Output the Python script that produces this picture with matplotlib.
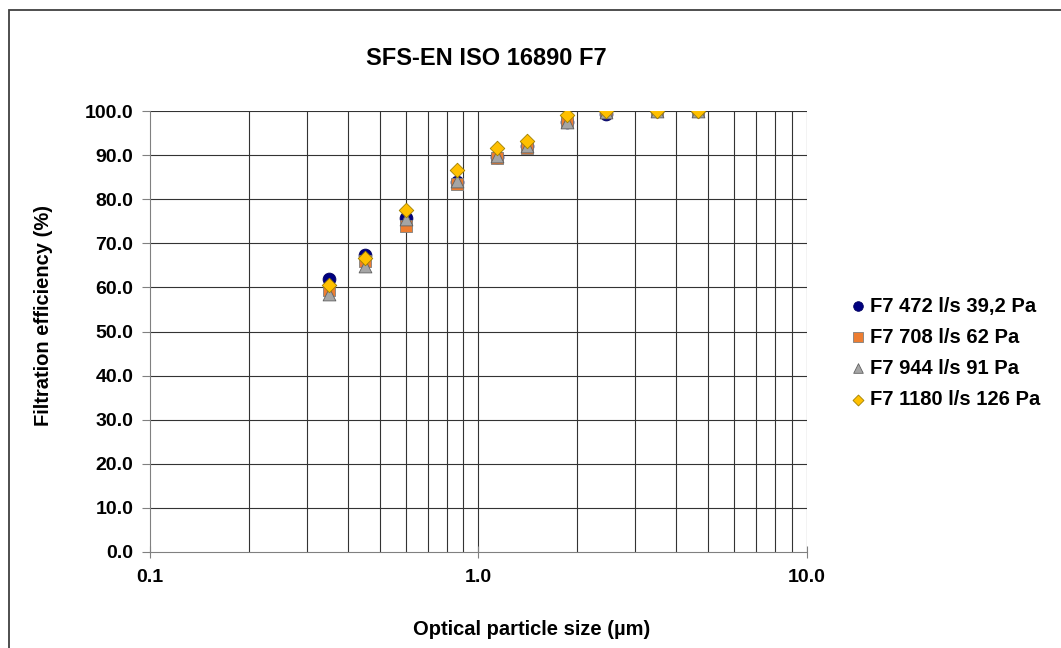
import numpy as np
import matplotlib.pyplot as plt
from matplotlib.patches import Rectangle
from matplotlib.ticker import FixedLocator, FuncFormatter, NullFormatter

plt.rcParams['font.family'] = ['Liberation Sans', 'DejaVu Sans']
plt.rcParams['font.weight'] = 'bold'

# particle size classes (um)
size_um = [0.35, 0.45, 0.60, 0.86, 1.14, 1.40, 1.86, 2.44, 3.49, 4.66]

# filtration efficiency (%) per airflow
eff_472 = [61.8, 67.3, 75.8, 84.0, 89.6, 92.0, 97.4, 99.3, 100.0, 100.0]
eff_708 = [59.5, 66.0, 74.0, 83.5, 89.4, 91.5, 97.5, 99.8, 100.0, 100.0]
eff_944 = [58.6, 64.8, 75.4, 84.1, 89.9, 92.0, 97.6, 99.7, 100.0, 100.0]
eff_1180 = [60.5, 66.6, 77.6, 86.6, 91.6, 93.1, 99.0, 100.0, 100.0, 100.0]

labels = ["F7 472 l/s 39,2 Pa", "F7 708 l/s 62 Pa",
          "F7 944 l/s 91 Pa", "F7 1180 l/s 126 Pa"]

fig = plt.figure(figsize=(10.61, 6.48), dpi=100)
# outer chart frame, open at the right and bottom edge
fig.patches.append(Rectangle((9 / 1061, -0.1), 1.2, (638 / 648) + 0.1,
                             transform=fig.transFigure, fill=False,
                             edgecolor='#404040', linewidth=1.3))

ax = fig.add_axes([150 / 1061, 96 / 648, 657 / 1061, 441 / 648])
ax.set_xscale('log')
ax.set_xlim(0.1, 10)
ax.set_ylim(0, 100)

grid_x = [m * 10.0 ** e for e in (-1, 0) for m in range(2, 10)] + [1.0, 10.0]
for gx in grid_x:
    ax.axvline(gx, color='#333333', linewidth=0.8, zorder=1)
for gy in range(10, 101, 10):
    ax.axhline(gy, color='#333333', linewidth=0.8, zorder=1)

ax.scatter(size_um, eff_472, marker='o', s=85, color='#000080',
           edgecolors='#000060', linewidths=0.6, zorder=3, label=labels[0])
ax.scatter(size_um, eff_708, marker='s', s=75, color='#ED7D31',
           edgecolors='#7F7F7F', linewidths=0.6, zorder=4, label=labels[1])
ax.scatter(size_um, eff_944, marker='^', s=85, color='#A5A5A5',
           edgecolors='#606060', linewidths=0.6, zorder=5, label=labels[2])
ax.scatter(size_um, eff_1180, marker='D', s=55, color='#FFC000',
           edgecolors='#A08000', linewidths=0.6, zorder=6, label=labels[3])

for side in ('top', 'right'):
    ax.spines[side].set_visible(False)
ax.spines['left'].set_color('#808080')
ax.spines['bottom'].set_color('#808080')

ax.yaxis.set_major_locator(FixedLocator(np.arange(0, 101, 10)))
ax.yaxis.set_major_formatter(FuncFormatter(lambda v, p: f"{v:.1f}"))
ax.xaxis.set_major_locator(FixedLocator([0.1, 1.0, 10.0]))
ax.xaxis.set_major_formatter(FuncFormatter(lambda v, p: f"{v:.1f}"))
ax.xaxis.set_minor_formatter(NullFormatter())
ax.tick_params(axis='y', direction='out', length=6, color='#808080',
               labelsize=14, pad=6)
ax.tick_params(axis='x', which='major', direction='inout', length=8,
               color='#808080', labelsize=14, pad=8)
ax.tick_params(axis='x', which='minor', length=0)

ax.set_title("SFS-EN ISO 16890 F7", fontsize=17, fontweight='bold',
             pad=33, x=0.512)
ax.set_xlabel("Optical particle size (µm)", fontsize=14.5, fontweight='bold',
              labelpad=20)
ax.xaxis.set_label_coords(0.581, -0.155)
ax.set_ylabel("Filtration efficiency (%)", fontsize=14.5, fontweight='bold')
ax.yaxis.set_label_coords(-0.148, 0.536)

leg = ax.legend(loc='center left', bbox_to_anchor=(1.032, 0.452), frameon=False,
                fontsize=14.5, handletextpad=0.0, labelspacing=0.6,
                handlelength=1.2, scatterpoints=1, markerscale=0.75)

fig.savefig("out.png", dpi=100)
